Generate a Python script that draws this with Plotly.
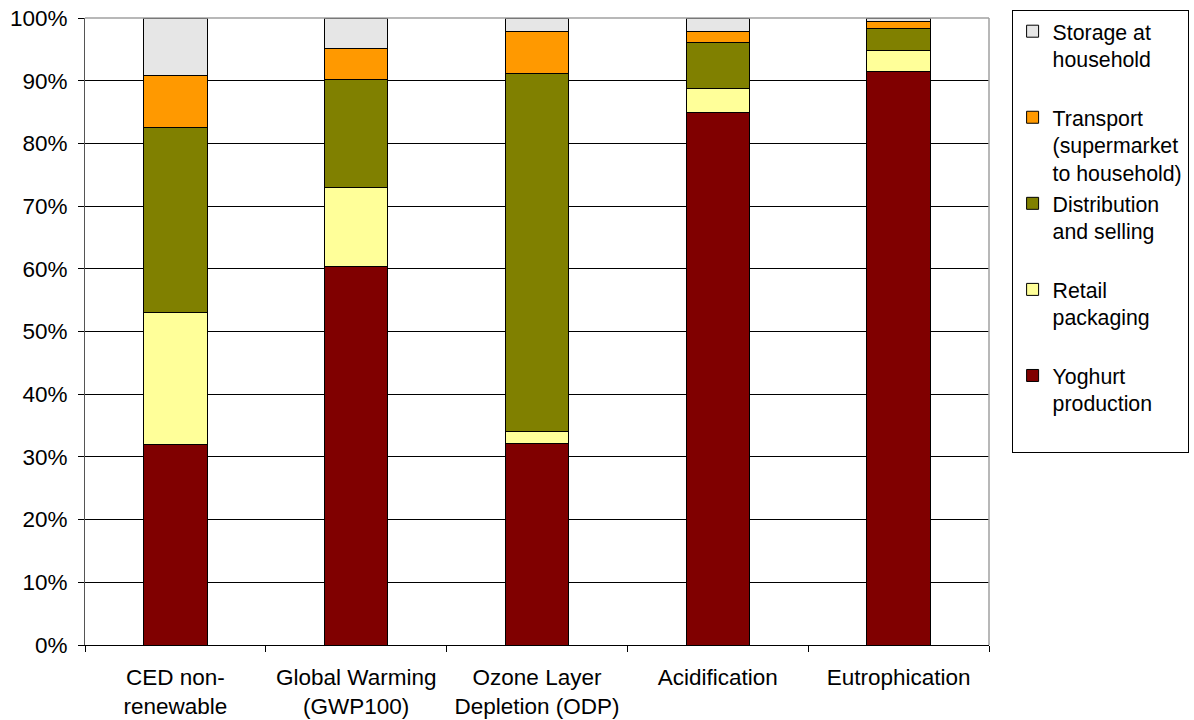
import plotly.graph_objects as go

# Impact categories (x axis)
categories = [
    "CED non-<br>renewable",
    "Global Warming<br>(GWP100)",
    "Ozone Layer<br>Depletion (ODP)",
    "Acidification",
    "Eutrophication",
]

# Share of each life-cycle stage, in percent
yoghurt_production = [32.0, 60.4, 32.2, 85.0, 91.5]
retail_packaging = [21.1, 12.6, 1.9, 3.7, 3.3]
distribution_selling = [29.5, 17.2, 57.1, 7.4, 3.6]
transport_home = [8.3, 4.9, 6.6, 1.7, 1.0]
storage_household = [9.1, 4.9, 2.2, 2.2, 0.6]

y_ticks = list(range(0, 101, 10))
y_tick_labels = [f"{v}%" for v in y_ticks]

# (legend label, values, colour, legend position) - stacked bottom to top
series = [
    ("Yoghurt<br>production<br> ", yoghurt_production, "#800000", 5),
    ("Retail<br>packaging<br> ", retail_packaging, "#FFFF99", 4),
    ("Distribution<br>and selling<br> ", distribution_selling, "#808000", 3),
    ("Transport<br>(supermarket<br>to household)", transport_home, "#FF9900", 2),
    ("Storage at<br>household<br> ", storage_household, "#E6E6E6", 1),
]

fig = go.Figure()
for name, values, color, rank in series:
    fig.add_trace(go.Bar(
        x=categories,
        y=values,
        name=name,
        legendrank=rank,
        marker=dict(color=color, line=dict(color="black", width=1)),
    ))

FONT = "Liberation Sans, Arial, sans-serif"

fig.update_layout(
    barmode="stack",
    bargap=0.65,
    width=1194,
    height=720,
    margin=dict(l=85, r=205, t=18, b=75, autoexpand=False),
    paper_bgcolor="white",
    plot_bgcolor="white",
    font=dict(family=FONT, size=22, color="black"),
    legend=dict(
        x=1.025, y=1.013, xanchor="left", yanchor="top",
        traceorder="normal",
        valign="top",
        bordercolor="black", borderwidth=1,
        bgcolor="white",
        font=dict(family=FONT, size=21.3, color="black"),
        itemwidth=30,
        maxheight=1.0,
    ),
    xaxis=dict(
        tickson="boundaries",
        ticks="outside", ticklen=6, tickcolor="black",
        ticklabelstandoff=12,
        showline=True, linecolor="black", linewidth=1,
        showgrid=False,
        tickfont=dict(family=FONT, size=22.5, color="black"),
    ),
    yaxis=dict(
        range=[0, 100],
        tickvals=y_ticks,
        ticktext=y_tick_labels,
        ticks="outside", ticklen=6, tickcolor="black",
        ticklabelstandoff=6,
        showline=True, linecolor="#555555", linewidth=1,
        showgrid=True, gridcolor="black", gridwidth=1,
        zeroline=False,
        tickfont=dict(family=FONT, size=22.5, color="black"),
    ),
)

# Light grey frame on the top and right of the plotting area
fig.add_shape(type="line", xref="paper", yref="paper", x0=0, x1=1, y0=1, y1=1,
              line=dict(color="#A0A0A0", width=1.5), layer="above")
fig.add_shape(type="line", xref="paper", yref="paper", x0=1, x1=1, y0=0, y1=1,
              line=dict(color="#A0A0A0", width=1.5), layer="above")

fig.write_html("out.html")
